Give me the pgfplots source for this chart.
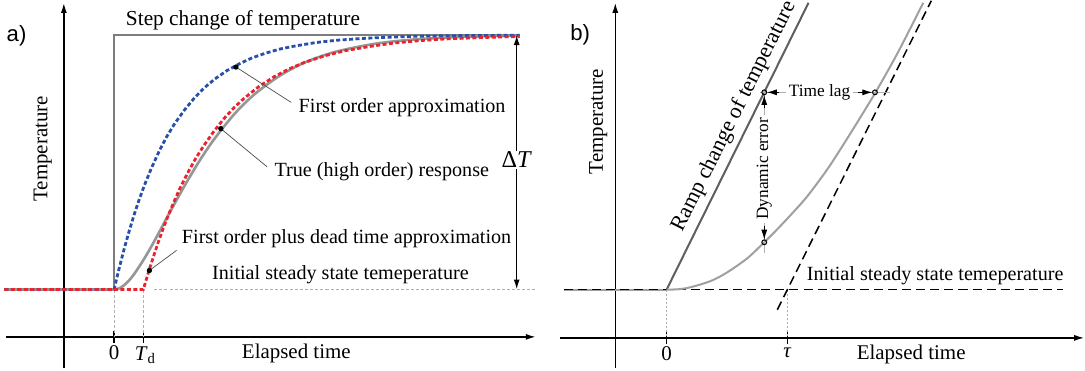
\documentclass[border=0pt]{standalone}
\usepackage{fontspec}
\setmainfont{Liberation Serif}
\newfontfamily\sansf{Liberation Sans}
\usepackage{pgfplots}
\pgfplotsset{compat=1.18}
\usetikzlibrary{arrows.meta}
\definecolor{cblue}{RGB}{40,80,170}
\definecolor{cred}{RGB}{235,35,45}
\definecolor{cstep}{RGB}{125,125,125}
\definecolor{ctrue}{RGB}{150,150,150}
\definecolor{cramp}{RGB}{95,95,95}
\definecolor{cresp}{RGB}{160,160,160}
\definecolor{cthin}{RGB}{175,175,175}
\newcommand\labfont{\rmfamily\fontsize{10pt}{12pt}\selectfont}
\newcommand\axfont{\rmfamily\fontsize{10.4pt}{12pt}\selectfont}
\newcommand\slabfont{\rmfamily\fontsize{8.6pt}{10pt}\selectfont}
\begin{document}
\begin{tikzpicture}[>={Latex[length=5pt,width=3pt]}]
% ---------------- panel a ----------------
\begin{axis}[at={(0,0)}, anchor=south west, scale only axis, width=270pt, height=185pt,
  xmin=-119, xmax=421, ymin=-0.3083, ymax=1.1542, hide axis, clip=false]
% axes
\addplot[black, line width=0.75pt, ->] coordinates {(-107,-0.1858) (419,-0.1858)};
\addplot[black, line width=0.75pt, ->] coordinates {(-50,-0.3083) (-50,1.126)};
\addplot[black, line width=0.75pt] coordinates {(0,-0.162) (0,-0.209)};
\addplot[black, line width=0.75pt] coordinates {(29,-0.162) (29,-0.209)};
% guides
\addplot[cthin, line width=0.4pt, dash pattern=on 1.5pt off 1pt] coordinates {(0,0) (0,-0.186)};
\addplot[cthin, line width=0.4pt, dash pattern=on 1.5pt off 1pt] coordinates {(29,0) (29,-0.186)};
\addplot[cthin, line width=0.4pt, dash pattern=on 1.5pt off 1pt] coordinates {(40,0) (418,0)};
% step
\addplot[cstep, line width=1pt] coordinates {(-109,0) (0,0) (0,1) (403,1)};
% true response
\addplot[ctrue, line width=1.3pt] coordinates {(-109,0) (0,0)};
\addplot[ctrue, line width=1.3pt, smooth] coordinates {(0,0) (5,0.0047) (10,0.0175) (15,0.037) (20,0.0616) (30,0.122) (40,0.191) (55,0.301) (70,0.408) (85,0.507) (100,0.594) (120,0.692) (140,0.769) (165,0.841) (190,0.893) (220,0.934) (260,0.966) (300,0.983) (350,0.993) (403,0.997)};
% first order
\addplot[cblue, line width=1.4pt, dash pattern=on 2pt off 1.2pt] coordinates {(-109,0) (0,0) (2,0.035) (5,0.084) (10,0.161) (15,0.231) (20,0.296) (25,0.355) (30,0.409) (37,0.477) (45,0.546) (52,0.599) (60,0.651) (70,0.706) (80,0.754) (90,0.794) (100,0.827) (112,0.860) (125,0.888) (137,0.910) (150,0.928) (165,0.945) (180,0.957) (200,0.970) (220,0.979) (245,0.986) (270,0.991) (300,0.995) (330,0.997) (365,0.998) (403,0.999)};
% FOPDT
\addplot[cred, line width=1.4pt, dash pattern=on 2pt off 1.2pt] coordinates {(-109,0) (29,0) (34,0.067) (39,0.129) (44,0.188) (49,0.243) (54,0.294) (59,0.341) (66,0.403) (74,0.465) (81,0.515) (89,0.565) (99,0.621) (109,0.671) (119,0.714) (129,0.751) (144,0.798) (159,0.836) (174,0.867) (189,0.892) (209,0.918) (229,0.938) (254,0.955) (279,0.969) (304,0.978) (329,0.9845) (365,0.990) (403,0.9944)};
% Delta T arrow
\addplot[black, line width=0.75pt, <->] coordinates {(400,0) (400,1)};
\node[fill=white, inner sep=0.5pt, font=\rmfamily\fontsize{12pt}{14pt}\selectfont] at (axis cs:400,0.51) {Δ\textit{T}};
% leaders
\addplot[black!70, line width=0.35pt] coordinates {(121,0.874) (176,0.735)};
\addplot[black!70, line width=0.35pt] coordinates {(106,0.632) (152,0.482)};
\addplot[black!70, line width=0.35pt] coordinates {(35,0.075) (62,0.154)};
\addplot[only marks, mark=*, mark size=1.1pt, black] coordinates {(121,0.874) (106,0.632) (35,0.075)};
% texts
\node[font=\rmfamily\fontsize{10.6pt}{12pt}\selectfont] at (axis cs:128,1.059) {Step change of temperature};
\node[font=\labfont, anchor=west, inner sep=0pt] at (axis cs:183,0.715) {First order approximation};
\node[font=\labfont, anchor=west, inner sep=0pt] at (axis cs:159,0.462) {True (high order) response};
\node[font=\labfont, anchor=west, inner sep=0pt] at (axis cs:67,0.2016) {First order plus dead time approximation};
\node[font=\labfont, anchor=west, inner sep=0pt] at (axis cs:97,0.059) {Initial steady state temeperature};
\node[font=\axfont, rotate=90] at (axis cs:-71,0.553) {Temperature};
\node[font=\axfont] at (axis cs:181,-0.249) {Elapsed time};
\node[font=\axfont] at (axis cs:0,-0.249) {0};
\node[font=\axfont] at (axis cs:31,-0.257) {\textit{T}\textsubscript{d}};
\node[font=\sansf\fontsize{11pt}{13pt}\selectfont] at (axis cs:-97,0.996) {a)};
\end{axis}
% ---------------- panel b ----------------
\begin{axis}[at={(272.5pt,0)}, anchor=south west, scale only axis, width=270pt, height=185pt,
  xmin=-123, xmax=417, ymin=-78, ymax=292, hide axis, clip=false]
\addplot[black, line width=0.75pt, ->] coordinates {(-106,-48) (415,-48)};
\addplot[black, line width=0.75pt, ->] coordinates {(-51,-78) (-51,285)};
\addplot[black, line width=0.75pt] coordinates {(0,-42) (0,-54)};
\addplot[black, line width=0.75pt] coordinates {(120,-42) (120,-54)};
\addplot[cthin, line width=0.4pt, dash pattern=on 1pt off 1pt] coordinates {(0,0) (0,-48)};
\addplot[cthin, line width=0.4pt, dash pattern=on 1pt off 1pt] coordinates {(120,0) (120,-48)};
% baseline
\addplot[cresp, line width=1pt] coordinates {(-102,0) (0,0)};
\addplot[black, line width=0.75pt, dash pattern=on 4.5pt off 2.5pt] coordinates {(-102,0) (394,0)};
% ramp
\addplot[cramp, line width=1pt] coordinates {(0,0) (141,285)};
% asymptote
\addplot[black, line width=0.75pt, dash pattern=on 4.5pt off 2.5pt] coordinates {(110,-20) (263,287)};
% response
\addplot[cresp, line width=1pt, smooth] coordinates {(0,0) (10,0.2) (20,1.5) (30,4) (45,9) (60,17) (80,31) (97,47) (110,60) (125,76) (140,93) (160,120) (180,151) (207,195) (230,236) (255,285)};
% time lag
\addplot[cthin, line width=0.5pt] coordinates {(93,196) (222,196)};
\node[font=\slabfont, fill=white, inner sep=1.5pt] at (axis cs:152,196) {Time lag};
\addplot[black, line width=0.5pt, ->] coordinates {(112,196) (99.5,196)};
\addplot[black, line width=0.5pt, ->] coordinates {(190,196) (204.5,196)};
% dynamic error
\addplot[cthin, line width=0.5pt] coordinates {(97,198) (97,36)};
\node[font=\slabfont, fill=white, inner sep=1.5pt, rotate=90] at (axis cs:97,120) {Dynamic error};
\addplot[black, line width=0.5pt, ->] coordinates {(97,180) (97,193.5)};
\addplot[black, line width=0.5pt, ->] coordinates {(97,63) (97,49.5)};
\addplot[only marks, mark=o, mark size=1.2pt, black, line width=0.5pt] coordinates {(97,196) (97,47) (207,196)};
% texts
\node[font=\rmfamily\fontsize{10.9pt}{12pt}\selectfont, rotate=63.5, inner sep=0pt, overlay] at (axis cs:67,172) {Ramp change of temperature};
\node[font=\labfont, anchor=west, inner sep=0pt] at (axis cs:139,14) {Initial steady state temeperature};
\node[font=\axfont, rotate=90] at (axis cs:-68,167) {Temperature};
\node[font=\axfont] at (axis cs:243,-64) {Elapsed time};
\node[font=\axfont] at (axis cs:0,-64) {0};
\node[font=\axfont] at (axis cs:120,-63) {\textit{τ}};
\node[font=\sansf\fontsize{11pt}{13pt}\selectfont] at (axis cs:-86,253) {b)};
\end{axis}
\end{tikzpicture}
\end{document}
